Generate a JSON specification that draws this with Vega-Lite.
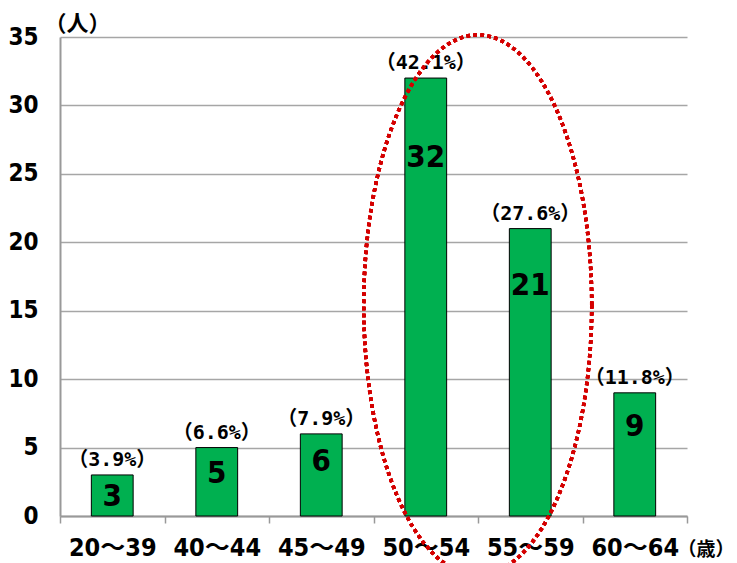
{
  "$schema": "https://vega.github.io/schema/vega-lite/v6.json",
  "width": 627,
  "height": 479,
  "autosize": "none",
  "padding": {"left": 60, "top": 37, "right": 50, "bottom": 47},
  "background": "white",
  "config": {"view": {"stroke": null}},
  "data": {
    "values": [
      {"age": "20～39", "count": 3, "pct": "（3.9%）"},
      {"age": "40～44", "count": 5, "pct": "（6.6%）"},
      {"age": "45～49", "count": 6, "pct": "（7.9%）"},
      {"age": "50～54", "count": 32, "pct": "（42.1%）"},
      {"age": "55～59", "count": 21, "pct": "（27.6%）"},
      {"age": "60～64", "count": 9, "pct": "（11.8%）"}
    ]
  },
  "resolve": {"scale": {"y": "independent"}, "axis": {"y": "independent"}},
  "layer": [
    {
      "mark": {"type": "bar", "fill": "#00B050", "stroke": "#000000", "strokeWidth": 1, "width": {"band": 0.4}},
      "encoding": {
        "x": {
          "field": "age", "type": "nominal", "sort": null,
          "scale": {"paddingInner": 0, "paddingOuter": 0},
          "axis": {
            "title": "（歳）", "titleAngle": 0, "titleAlign": "left", "titleBaseline": "middle",
            "titleX": 617, "titleY": 33, "titleFont": "'Noto Sans CJK JP'",
            "titleFontSize": 19, "titleFontWeight": "bold", "titleColor": "#000",
            "labelAngle": 0, "labelFont": "'DejaVu Sans Condensed', 'Noto Sans CJK JP'",
            "labelFontSize": 25, "labelFontWeight": "bold", "labelColor": "#000",
            "labelPadding": 12, "labelBaseline": "top",
            "tickBand": "extent", "tickSize": 7, "tickColor": "#999", "tickWidth": 1.5,
            "domainColor": "#999", "domainWidth": 2, "grid": false
          }
        },
        "y": {
          "field": "count", "type": "quantitative",
          "scale": {"domain": [0, 35], "nice": false},
          "axis": {
            "values": [0, 5, 10, 15, 20, 25, 30, 35],
            "title": "（人）", "titleAngle": 0, "titleAlign": "left", "titleBaseline": "middle",
            "titleX": -16, "titleY": -14, "titleFont": "'Noto Sans CJK JP'",
            "titleFontSize": 22, "titleFontWeight": "bold", "titleColor": "#000",
            "labelFont": "'DejaVu Sans Condensed', 'Noto Sans CJK JP'",
            "labelFontSize": 24, "labelFontWeight": "bold", "labelColor": "#000",
            "labelPadding": 22, "ticks": false,
            "domainColor": "#999", "domainWidth": 2,
            "grid": true, "gridColor": "#A6A6A6", "gridWidth": 1.5
          }
        }
      }
    },
    {
      "mark": {"type": "text", "baseline": "bottom", "dy": -5, "font": "'DejaVu Sans Mono', 'Noto Sans CJK JP'", "fontSize": 20, "fontWeight": "bold", "color": "#000"},
      "encoding": {
        "x": {"field": "age", "type": "nominal", "sort": null},
        "y": {"field": "count", "type": "quantitative", "scale": {"domain": [0, 35], "nice": false}, "axis": null},
        "text": {"field": "pct"}
      }
    },
    {
      "mark": {"type": "text", "baseline": "middle", "font": "'DejaVu Sans Condensed', 'Noto Sans CJK JP'", "fontSize": 31, "fontWeight": "bold", "color": "#000"},
      "encoding": {
        "x": {"field": "age", "type": "nominal", "sort": null},
        "y": {"field": "count", "type": "quantitative", "scale": {"domain": [1.37, 42.34], "nice": false, "zero": false}, "axis": null},
        "text": {"field": "count"}
      }
    },
    {
      "mark": {
        "type": "point", "filled": false, "size": 40000,
        "shape": "M 1.66 0 C 1.66 1.4912 1.1496 2.7 0.52 2.7 C -0.1096 2.7 -0.62 1.4912 -0.62 0 C -0.62 -1.4912 -0.1096 -2.7 0.52 -2.7 C 1.1496 -2.7 1.66 -1.4912 1.66 0 Z",
        "stroke": "#D40000", "strokeWidth": 3.5, "strokeDash": [3.5, 3.5], "opacity": 1
      },
      "encoding": {
        "x": {"datum": "50～54", "type": "nominal"},
        "y": {"datum": 15.42, "type": "quantitative", "scale": {"domain": [0, 35], "nice": false}, "axis": null}
      }
    }
  ]
}
